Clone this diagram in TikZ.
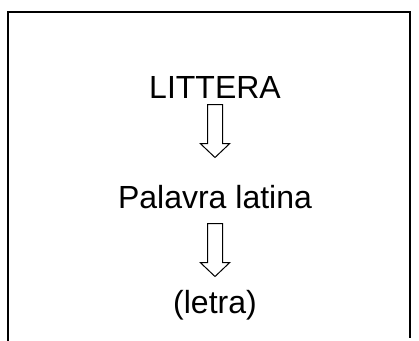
\documentclass[tikz,border=0pt]{standalone}
\usepackage{fontspec}
\setmainfont{Liberation Sans}
\usetikzlibrary{calc}
\begin{document}
\begin{tikzpicture}[x=1pt,y=-1pt,
  lbl/.style={anchor=base,inner sep=0pt,font=\fontsize{32}{38}\selectfont},
  frameline/.style={line width=2pt},
  hollow/.style={draw,line width=1pt,fill=white,line join=miter},
  downarrow/.pic={\draw[hollow] (-7.5,0) -- (7.5,0) -- (7.5,39) -- (14.75,39) -- (0,53) -- (-14.75,39) -- (-7.5,39) -- cycle;}]
\useasboundingbox (0,0) rectangle (419,340);
\draw[frameline] (8,341) -- (8,12) -- (410,12) -- (410,338);
\node[lbl] (t1) at (215,98) {LITTERA};
\node[lbl] (t2) at (215,208) {Palavra latina};
\node[lbl] (t3) at (215,313) {(letra)};
\coordinate (a1) at ($(t1.base)+(0,6.5)$);
\coordinate (a2) at ($(t2.base)+(0,15.5)$);
\pic at (a1) {downarrow};
\pic at (a2) {downarrow};
\end{tikzpicture}
\end{document}
